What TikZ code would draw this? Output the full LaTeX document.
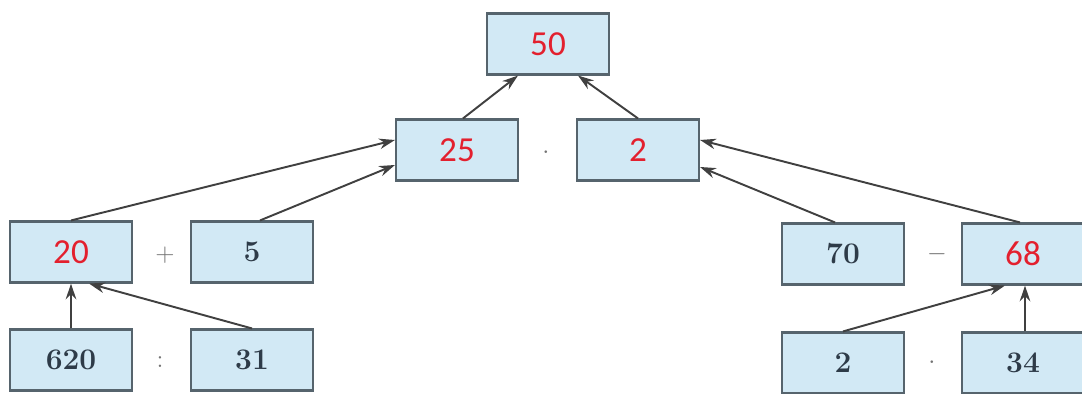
\documentclass[tikz,border=0pt]{standalone}
\usepackage{fontspec}
\usetikzlibrary{arrows.meta}
\newfontfamily\redfont{Carlito}
\definecolor{boxfill}{HTML}{D2E9F5}
\definecolor{boxline}{HTML}{56646D}
\definecolor{ansred}{HTML}{E3202E}
\definecolor{numink}{HTML}{2E3B48}
\tikzset{>={Stealth[length=9pt,width=6pt]}}

\begin{document}
\begin{tikzpicture}[
    numbox/.style={draw=boxline, line width=1.2pt, fill=boxfill, minimum width=2.44cm, minimum height=1.22cm, inner sep=0pt},
    ans/.style={numbox, text=ansred, font=\redfont\fontsize{20}{20}\selectfont},
    given/.style={numbox, text=numink, font=\bfseries\fontsize{17}{17}\selectfont},
    op/.style={text=black!55, font=\fontsize{15}{15}\selectfont},
    link/.style={->, draw=black!75, line width=1.1pt}]
    \useasboundingbox (0,0) rectangle (21.64,7.88);
    % top
    \node[ans] (n50) at (10.96,7.00) {50};
    \node[ans] (n25) at (9.14,4.88) {25};
    \node[ans] (n2) at (12.76,4.88) {2};
    \node[op] (m1) at (10.92,4.82) {$\cdot$};
    % left
    \node[ans] (n20) at (1.42,2.84) {20};
    \node[given] (n5) at (5.04,2.84) {5};
    \node[op] (p1) at (3.30,2.78) {$+$};
    \node[given] (n620) at (1.42,0.68) {620};
    \node[given] (n31) at (5.04,0.68) {31};
    \node[op] (d1) at (3.20,0.64) {$:$};
    % right
    \node[given] (n70) at (16.86,2.80) {70};
    \node[ans] (n68) at (20.46,2.80) {68};
    \node[op] (s1) at (18.74,2.80) {$-$};
    \node[given] (n2b) at (16.86,0.62) {2};
    \node[given] (n34) at (20.46,0.62) {34};
    \node[op] (m2) at (18.64,0.62) {$\cdot$};
    % arrows
    \draw[link] ([xshift=0.12cm]n25.north) -- ([xshift=-0.6cm]n50.south);
    \draw[link] (n2.north) -- ([xshift=0.6cm]n50.south);
    \draw[link] (n20.north) -- ([yshift=0.2cm]n25.west);
    \draw[link] ([xshift=0.16cm]n5.north) -- ([yshift=-0.3cm]n25.west);
    \draw[link] ([xshift=-0.16cm]n70.north) -- ([yshift=-0.34cm]n2.east);
    \draw[link] ([xshift=-0.06cm]n68.north) -- ([yshift=0.2cm]n2.east);
    \draw[link] (n620.north) -- (n20.south);
    \draw[link] (n31.north) -- ([xshift=0.36cm]n20.south);
    \draw[link] (n2b.north) -- ([xshift=-0.36cm]n68.south);
    \draw[link] ([xshift=0.04cm]n34.north) -- ([xshift=0.04cm]n68.south);
\end{tikzpicture}
\end{document}
